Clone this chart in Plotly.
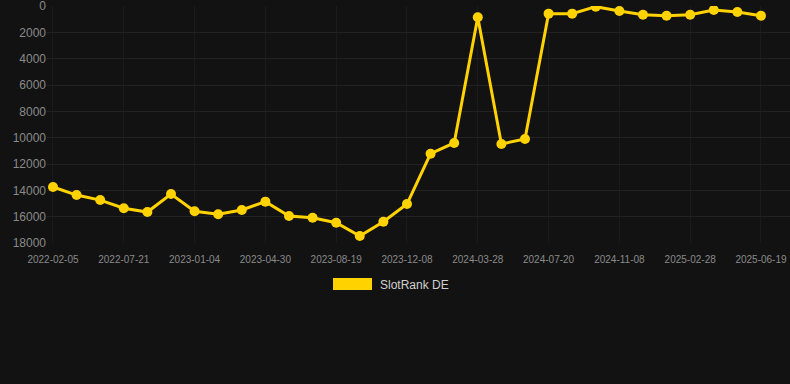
import plotly.graph_objects as go

dates = [
    "2022-02-05", "2022-04-01", "2022-05-26", "2022-07-21", "2022-09-15", "2022-11-09",
    "2023-01-04", "2023-02-12", "2023-03-22", "2023-04-30", "2023-06-06", "2023-07-13",
    "2023-08-19", "2023-09-26", "2023-11-01", "2023-12-08", "2024-01-13", "2024-02-20",
    "2024-03-28", "2024-05-05", "2024-06-12", "2024-07-20", "2024-08-26", "2024-10-02",
    "2024-11-08", "2024-12-15", "2025-01-21", "2025-02-28", "2025-04-08", "2025-05-14",
    "2025-06-19",
]
ranks = [
    13750, 14360, 14740, 15360, 15650, 14280,
    15590, 15820, 15490, 14860, 15950, 16080,
    16460, 17470, 16380, 15040, 11220, 10400,
    860, 10480, 10100, 580, 580, 50,
    380, 660, 740, 660, 300, 460,
    740,
]
tick_labels = dates[::3]
y_ticks = [0, 2000, 4000, 6000, 8000, 10000, 12000, 14000, 16000, 18000]
series_name = "SlotRank DE"
gold = "#FFD200"

fig = go.Figure()
fig.add_trace(go.Scatter(
    x=dates, y=ranks, mode="lines+markers", name=series_name,
    line=dict(color=gold, width=3),
    marker=dict(color=gold, size=10),
    showlegend=False,
))

fig.update_layout(
    width=790, height=384,
    margin=dict(l=47, r=0, t=6, b=141),
    paper_bgcolor="#121212", plot_bgcolor="#121212",
    font=dict(family="Liberation Sans, Arial, sans-serif", color="#8a8a8a"),
    xaxis=dict(
        type="category", range=[-0.254, 31.23],
        tickmode="array", tickvals=tick_labels, ticktext=tick_labels,
        showgrid=True, gridcolor="#1b1b1b", gridwidth=1,
        tickfont=dict(size=10, color="#8a8a8a"), ticks="", showline=False,
        zeroline=False, ticklabelstandoff=9,
    ),
    yaxis=dict(
        range=[18000, 0], tickmode="array", tickvals=y_ticks,
        tickformat="d", ticklabeloverflow="allow",
        showgrid=True, gridcolor="#222222", gridwidth=1,
        tickfont=dict(size=12, color="#8a8a8a"), ticks="", zeroline=False,
        showline=False,
    ),
)

# legend drawn as rectangle + text
fig.add_shape(type="rect", xref="paper", yref="paper",
              x0=(333 - 47) / 743, x1=(372 - 47) / 743,
              y0=(243 - 290) / 237, y1=(243 - 278) / 237,
              fillcolor=gold, line=dict(width=0))
fig.add_annotation(xref="paper", yref="paper", x=(378 - 47) / 743, y=(243 - 284.5) / 237,
                   text=series_name, showarrow=False, xanchor="left", yanchor="middle",
                   font=dict(size=12, color="#d0d0d0"))

fig.write_html("out.html")
